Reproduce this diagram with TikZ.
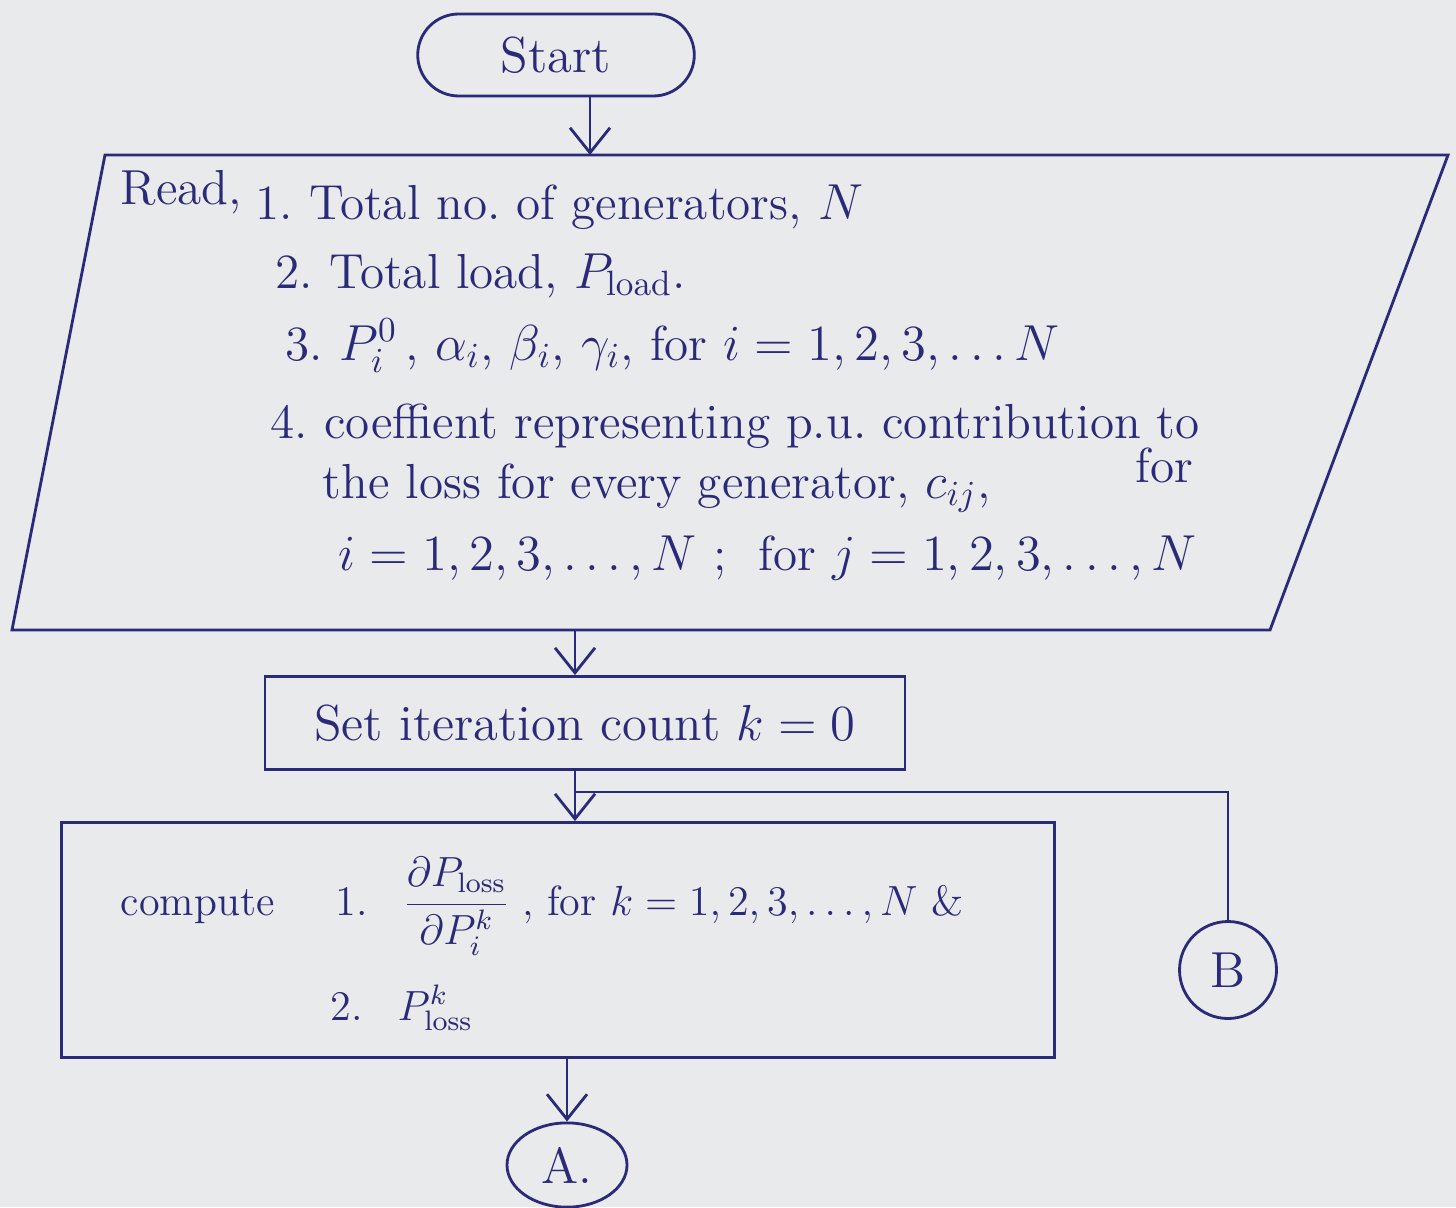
\documentclass[tikz,border=0pt]{standalone}
\usepackage{amsmath}
\usetikzlibrary{shapes.geometric,shapes.misc,arrows.meta,positioning}

\definecolor{ink}{HTML}{2B2A78}
\definecolor{paper}{HTML}{E9EAEC}

\tikzset{
  flowline/.style={thick, ink},
  startbox/.style={draw, ink, thick, rounded rectangle, minimum width=3.0cm, minimum height=0.82cm, font=\Large},
  procbox/.style={draw, ink, thick, rectangle},
  joint/.style={draw, ink, thick, ellipse, font=\Large},
  txt/.style={ink, anchor=base west, font=\fontsize{14}{17}\selectfont, inner sep=0pt},
  smalltxt/.style={txt, font=\large},
}

\begin{document}
\begin{tikzpicture}[>={Straight Barb[length=2.5mm,width=4mm]}]

    % paper
    \fill[paper] (0,0) rectangle (14.56,-12.07);
    \useasboundingbox (0,0) rectangle (14.56,-12.07);

    %========================
    % Start
    %========================
    \node[startbox] (start) at (5.56,-0.55) {Start};

    %========================
    % Input block (parallelogram)
    %========================
    \coordinate (rtl) at (1.05,-1.55);
    \coordinate (rtr) at (14.48,-1.55);
    \coordinate (rbr) at (12.70,-6.30);
    \coordinate (rbl) at (0.12,-6.30);
    \draw[flowline] (rtl) -- (rtr) -- (rbr) -- (rbl) -- cycle;

    \node[txt] (rd) at (1.20,-2.05) {Read,};
    \node[txt] (r1) at (2.55,-2.20) {1.\ Total no.\ of generators, $N$};
    \node[txt] (r2) at (2.75,-2.88) {2.\ Total load, $P_{\mathrm{load}}$.};
    \node[txt] (r3) at (2.85,-3.60) {3.\ $P_i^{0}$\,, $\alpha_i$, $\beta_i$, $\gamma_i$, for $i = 1,2,3,\ldots N$};
    \node[txt] (r4) at (2.70,-4.38) {4.\ coeffient representing p.u.\ contribution to};
    \node[txt] (r5) at (3.22,-4.98) {the loss for every generator, $c_{ij}$,};
    \node[txt] (r5b) at (11.35,-4.82) {for};
    \node[txt] (r6) at (3.38,-5.70) {$i = 1,2,3,\ldots, N$\ ; \ for $j = 1,2,3,\ldots, N$};

    %========================
    % Initialise
    %========================
    \node[procbox, minimum width=6.4cm, minimum height=0.93cm, font=\Large, ink] (set) at (5.85,-7.23)
        {Set iteration count $k = 0$};

    %========================
    % Compute block
    %========================
    \node[procbox, minimum width=9.93cm, minimum height=2.35cm] (comp) at (5.58,-9.40) {};
    \node[smalltxt] (c0) at (1.20,-9.15) {compute};
    \node[smalltxt] (c1) at (3.35,-9.15)
        {1.\enspace\ $\dfrac{\partial P_{\mathrm{loss}}}{\partial P_i^{k}}$\;, for $k = 1,2,3,\ldots,N$ \&};
    \node[smalltxt] (c2) at (3.30,-10.20) {2.\enspace\ $P^{k}_{\mathrm{loss}}$};

    %========================
    % Connectors A and B
    %========================
    \node[joint, minimum width=1.2cm, minimum height=0.82cm] (A) at (5.67,-11.65) {A.};
    \node[joint, circle, minimum size=0.97cm] (B) at (12.28,-9.70) {B};

    % Flow lines
    \coordinate (spine) at (5.75,0);
    \coordinate (topx) at (5.90,0);
    \coordinate (join) at (5.75,-7.92);

    \draw[flowline,->] (start.south -| topx) -- (topx |- rtl);
    \draw[flowline,->] (spine |- rbl) -- (set.north -| spine);
    \draw[flowline,->] (set.south -| spine) -- (comp.north -| spine);
    \draw[flowline] (B.north) |- (join);
    \draw[flowline,->] (comp.south -| A) -- (A.north);

\end{tikzpicture}
\end{document}
